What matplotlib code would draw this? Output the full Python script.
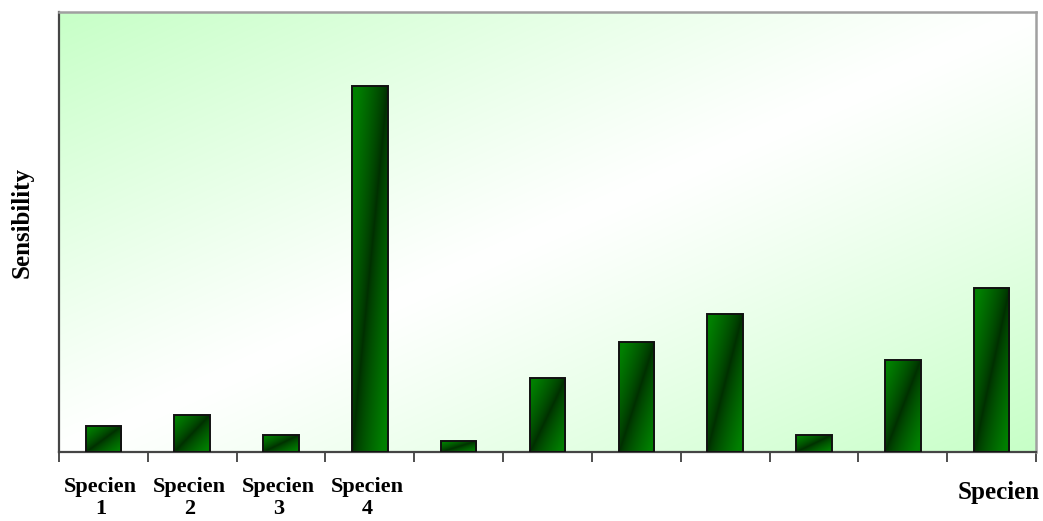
import matplotlib.pyplot as plt
import numpy as np

# Sensibility per specien (relative units, axis has no scale)
categories = ['Specien\n1', 'Specien\n2', 'Specien\n3', 'Specien\n4',
              '', '', '', '', '', '', '']
sensibility = [26, 37, 17, 366, 11, 74, 110, 138, 17, 92, 164]

plt.rcParams['font.family'] = ['Liberation Serif', 'DejaVu Serif']

fig = plt.figure(figsize=(10.43, 5.21), dpi=100)
ax = fig.add_axes([59 / 1043, 69 / 521, 977 / 1043, 440 / 521])

n = len(sensibility)
x = np.arange(n)
ymax = 440
ax.set_xlim(-0.5, n - 0.5)
ax.set_ylim(0, ymax)


def diag_gradient(c_mid, c_edge, gamma, nx=200, ny=200, band=1.0):
    # colour depends on distance from the bottom-left -> top-right diagonal
    u = np.linspace(0, 1, nx)[None, :]
    v = np.linspace(1, 0, ny)[:, None]  # row 0 is the top
    t = np.clip(np.abs(u - v) / band, 0, 1) ** gamma
    c_mid = np.array(c_mid)[None, None, :]
    c_edge = np.array(c_edge)[None, None, :]
    return c_mid * (1 - t[..., None]) + c_edge * t[..., None]


# plot area background: white along the diagonal, pale green in two corners
bg = diag_gradient((1, 1, 1), (0.78, 1.0, 0.78), 1.1)
ax.imshow(bg, extent=(-0.5, n - 0.5, 0, ymax), aspect='auto', zorder=0,
          interpolation='bilinear')

# bars with shaded fill
width = 0.4
bar_fill = diag_gradient((0.0, 0.18, 0.0), (0.0, 0.50, 0.0), 0.75, nx=60, ny=300, band=0.85)
for xi, h in zip(x, sensibility):
    ax.imshow(bar_fill, extent=(xi - width / 2, xi + width / 2, 0, h),
              aspect='auto', zorder=2, interpolation='bilinear')
ax.bar(x, sensibility, width=width, facecolor='none', edgecolor='#111111',
       linewidth=1.4, zorder=3)
ax.set_xlim(-0.5, n - 0.5)
ax.set_ylim(0, ymax)

# category labels at centres, tick marks at category boundaries
ax.set_xticks(x - 0.03)
ax.set_xticklabels(categories, fontsize=16, fontweight='bold', linespacing=1.15)
ax.tick_params(axis='x', which='major', length=0, pad=18)
ax.set_xticks(np.arange(-0.5, n, 1), minor=True)
ax.tick_params(axis='x', which='minor', length=7, width=1.3, color='#404040',
               direction='out')
ax.set_yticks([])

for side in ['left', 'bottom']:
    ax.spines[side].set_color('#454545')
    ax.spines[side].set_linewidth(1.6)
for side in ['top', 'right']:
    ax.spines[side].set_color('#a0a0a0')
    ax.spines[side].set_linewidth(1.8)

fig.text(22 / 1043, 1 - 222 / 521, 'Sensibility', rotation=90, fontsize=18,
         fontweight='bold', ha='center', va='center')
fig.text(1040 / 1043, 1 - 492 / 521, 'Specien', fontsize=18,
         fontweight='bold', ha='right', va='center')

fig.savefig('out.png', dpi=100)
